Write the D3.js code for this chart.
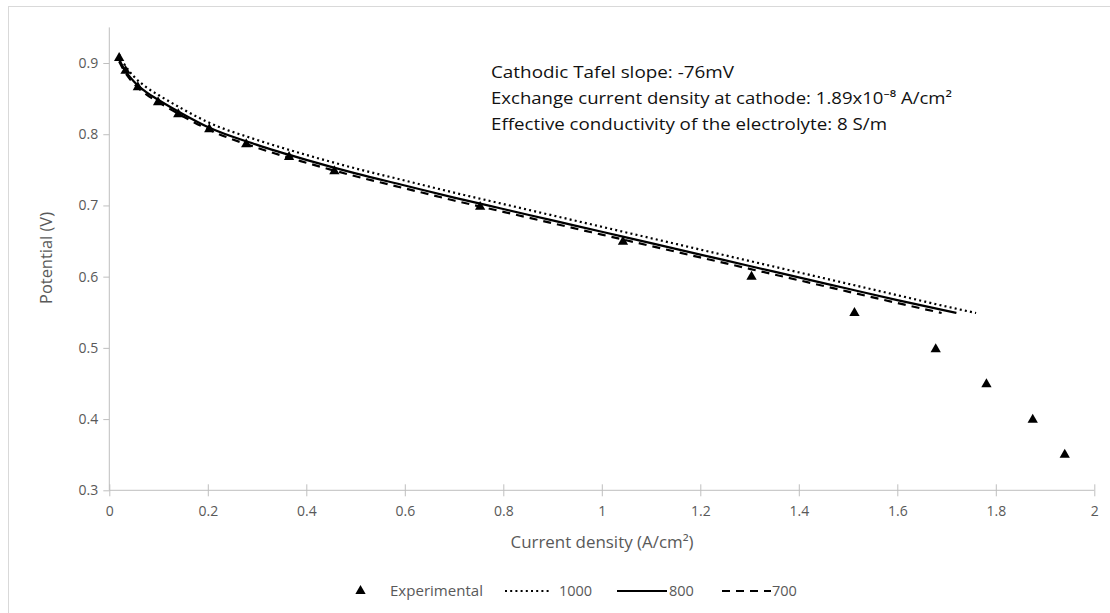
<!DOCTYPE html>
<html>
<head>
<meta charset="utf-8">
<script src="https://cdn.jsdelivr.net/npm/d3@7/dist/d3.min.js"></script>
<style>
  html, body { margin: 0; padding: 0; background: #fff; }
  svg { display: block; }
  text { font-family: "Open Sans", "Noto Sans", sans-serif; }
</style>
</head>
<body>
<svg id="chart" width="1110" height="613"></svg>
<script>
// ---- Data ----
const expX = [0.02, 0.033, 0.058, 0.099, 0.14, 0.203, 0.278, 0.365, 0.457, 0.753, 1.043, 1.304, 1.513, 1.678, 1.781, 1.875, 1.94];
const expY = [0.907, 0.889, 0.866, 0.845, 0.828, 0.807, 0.786, 0.768, 0.748, 0.698, 0.649, 0.600, 0.549, 0.498, 0.449, 0.399, 0.350];

const x1000 = [0.02, 0.03, 0.05, 0.075, 0.1, 0.15, 0.2, 0.3, 0.4, 0.5, 0.6, 0.7, 0.8, 0.9, 1.0, 1.1, 1.2, 1.3, 1.4, 1.5, 1.6, 1.7, 1.76];
const y1000 = [0.912, 0.899, 0.881, 0.866, 0.855, 0.835, 0.817, 0.792, 0.771, 0.752, 0.735, 0.718, 0.702, 0.686, 0.670, 0.654, 0.638, 0.622, 0.606, 0.590, 0.574, 0.558, 0.549];

const x800 = [0.02, 0.03, 0.05, 0.075, 0.1, 0.15, 0.2, 0.3, 0.4, 0.5, 0.6, 0.7, 0.8, 0.9, 1.0, 1.1, 1.2, 1.3, 1.4, 1.5, 1.6, 1.72];
const y800 = [0.905, 0.892, 0.874, 0.859, 0.848, 0.828, 0.810, 0.785, 0.764, 0.745, 0.728, 0.711, 0.695, 0.679, 0.663, 0.647, 0.631, 0.615, 0.599, 0.583, 0.567, 0.549];

const x700 = [0.02, 0.03, 0.05, 0.075, 0.1, 0.15, 0.2, 0.3, 0.4, 0.5, 0.6, 0.7, 0.8, 0.9, 1.0, 1.1, 1.2, 1.3, 1.4, 1.5, 1.6, 1.69];
const y700 = [0.902, 0.889, 0.871, 0.856, 0.845, 0.825, 0.807, 0.781, 0.760, 0.741, 0.724, 0.707, 0.691, 0.675, 0.659, 0.643, 0.627, 0.611, 0.595, 0.579, 0.563, 0.549];

const xTicks = [0, 0.2, 0.4, 0.6, 0.8, 1, 1.2, 1.4, 1.6, 1.8, 2];
const yTicks = [0.3, 0.4, 0.5, 0.6, 0.7, 0.8, 0.9];

const seriesNames = ["Experimental", "1000", "800", "700"];
const xTitle = "Current density (A/cm²)";
const yTitle = "Potential (V)";
const notes = [
  "Cathodic Tafel slope: -76mV",
  "Exchange current density at cathode: 1.89x10⁻⁸ A/cm²",
  "Effective conductivity of the electrolyte: 8 S/m"
];

// ---- Drawing ----
const svg = d3.select("#chart");
const axisColor = "#bfbfbf";
const textColor = "#595959";

svg.append("rect")
  .attr("x", 8.5).attr("y", 6.5)
  .attr("width", 1120).attr("height", 640)
  .attr("fill", "none").attr("stroke", "#d9d9d9").attr("stroke-width", 1);

const x = d3.scaleLinear().domain([0, 2]).range([109.3, 1094.3]);
const y = d3.scaleLinear().domain([0.3, 0.95]).range([490.3, 27.4]);

// y axis
const yAxis = d3.axisLeft(y).tickValues(yTicks).tickFormat(d3.format(".1f")).tickSize(6).tickPadding(5);
const gy = svg.append("g").attr("transform", `translate(${x(0)},0)`).call(yAxis);
gy.select(".domain").attr("stroke", axisColor).attr("d", `M0,${y(0.95)}V${y(0.3)}`);
gy.selectAll(".tick line").attr("stroke", axisColor).attr("x1", 0).attr("x2", -6);
gy.selectAll(".tick text").attr("fill", textColor).attr("font-size", 14).attr("x", -11)
  .style("font-family", "'Open Sans', sans-serif");

// x axis
const xAxis = d3.axisBottom(x).tickValues(xTicks).tickFormat(d => String(d)).tickSize(6).tickPadding(10);
const gx = svg.append("g").attr("transform", `translate(0,${y(0.3)})`).call(xAxis);
gx.select(".domain").attr("stroke", axisColor).attr("d", `M${x(0)},0H${x(2)}`);
gx.selectAll(".tick line").attr("stroke", axisColor).attr("y1", -6).attr("y2", 6);
gx.selectAll(".tick text").attr("fill", textColor).attr("font-size", 14)
  .style("font-family", "'Open Sans', sans-serif");

// axis titles
svg.append("text").text(xTitle)
  .attr("x", 602).attr("y", 548).attr("text-anchor", "middle")
  .attr("fill", textColor).attr("font-size", 16)
  .attr("textLength", 183).attr("lengthAdjust", "spacingAndGlyphs");
svg.append("text").text(yTitle)
  .attr("transform", `translate(52,258) rotate(-90)`).attr("text-anchor", "middle")
  .attr("fill", textColor).attr("font-size", 16)
  .attr("textLength", 92).attr("lengthAdjust", "spacingAndGlyphs");

// model lines
const line = d3.line().x(d => x(d[0])).y(d => y(d[1])).curve(d3.curveMonotoneX);
const styles = {
  "1000": { dash: "2,3.2", width: 2.2 },
  "800": { dash: null, width: 2.2 },
  "700": { dash: "8,6", width: 2.2 }
};
const models = [
  { name: "700", xs: x700, ys: y700 },
  { name: "800", xs: x800, ys: y800 },
  { name: "1000", xs: x1000, ys: y1000 }
];
models.forEach(m => {
  svg.append("path")
    .datum(m.xs.map((v, i) => [v, m.ys[i]]))
    .attr("d", line)
    .attr("fill", "none")
    .attr("stroke", "#000")
    .attr("stroke-width", styles[m.name].width)
    .attr("stroke-dasharray", styles[m.name].dash);
});

// experimental points
const tri = d3.symbol().type(d3.symbolTriangle).size(46);
svg.append("g").selectAll("path")
  .data(expX.map((v, i) => [v, expY[i]]))
  .join("path")
  .attr("d", tri)
  .attr("transform", d => `translate(${x(d[0])},${y(d[1])})`)
  .attr("fill", "#000");

// annotation
const noteTargets = [243, 461, 396];
notes.forEach((t, i) => {
  svg.append("text").text(t)
    .attr("x", 491).attr("y", 78 + i * 26)
    .attr("fill", "#111").attr("font-size", 16.5)
    .attr("textLength", noteTargets[i]).attr("lengthAdjust", "spacingAndGlyphs");
});

// legend
const ly = 591;
svg.append("path").attr("d", tri).attr("transform", `translate(360.5,${ly})`).attr("fill", "#000");
svg.append("text").text(seriesNames[0]).attr("x", 390).attr("y", ly + 5)
  .attr("fill", textColor).attr("font-size", 14.5)
  .attr("textLength", 93).attr("lengthAdjust", "spacingAndGlyphs");

const legendLines = [
  { name: "1000", x1: 505, x2: 551, tx: 559 },
  { name: "800", x1: 617, x2: 667, tx: 669 },
  { name: "700", x1: 722, x2: 771, tx: 772 }
];
legendLines.forEach(l => {
  svg.append("line")
    .attr("x1", l.x1).attr("x2", l.x2).attr("y1", ly).attr("y2", ly)
    .attr("stroke", "#000").attr("stroke-width", styles[l.name].width)
    .attr("stroke-dasharray", styles[l.name].dash);
  svg.append("text").text(l.name).attr("x", l.tx).attr("y", ly + 5)
    .attr("fill", textColor).attr("font-size", 14.5);
});
</script>
</body>
</html>
